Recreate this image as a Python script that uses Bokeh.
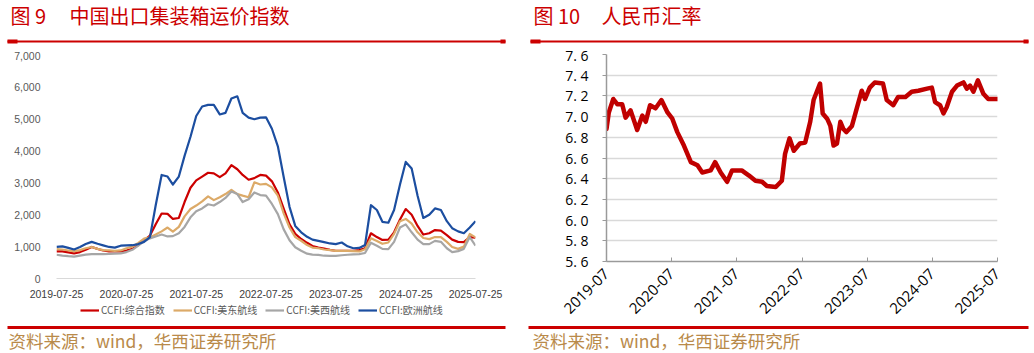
import pandas as pd
from bokeh.plotting import figure
from bokeh.layouts import row, column
from bokeh.models import (Range1d, FixedTicker, NumeralTickFormatter, DatetimeTickFormatter,
                          CustomJSTickFormatter, Legend, LegendItem)
from bokeh.core.properties import value
from bokeh.embed import file_html
from bokeh.resources import INLINE
import math

# ---------------- data: 中国出口集装箱运价指数 (monthly readings) ----------------
ccfi_dates = pd.date_range("2019-07-25", periods=73, freq=pd.DateOffset(months=1))
ccfi_composite = [850, 850, 820, 790, 830, 900, 990, 930, 880, 850,
                  850, 850, 880, 930, 1050, 1200, 1350, 1700, 2040, 2030,
                  1870, 1900, 2400, 2850, 3080, 3200, 3320, 3300, 3180, 3300,
                  3560, 3430, 3250, 3100, 3150, 3250, 3230, 3050, 2700, 2200,
                  1700, 1400, 1240, 1120, 1020, 970, 940, 900, 870, 870,
                  870, 870, 890, 950, 1420, 1300, 1210, 1220, 1450, 1850,
                  2180, 2000, 1650, 1380, 1420, 1520, 1500, 1360, 1220, 1150,
                  1140, 1300, 1280]
ccfi_us_east = [920, 910, 880, 850, 890, 950, 990, 930, 890, 880,
                870, 880, 950, 1000, 1120, 1250, 1290, 1380, 1480, 1600,
                1470, 1620, 1950, 2180, 2290, 2420, 2580, 2460, 2550, 2650,
                2780, 2650, 2600, 2550, 3020, 2950, 2970, 2860, 2600, 2050,
                1600, 1300, 1185, 1050, 970, 950, 910, 890, 870, 870,
                870, 860, 850, 920, 1260, 1180, 1090, 1130, 1400, 1800,
                1870, 1720, 1450, 1270, 1237, 1300, 1300, 1150, 990, 930,
                1000, 1400, 1290]
ccfi_us_west = [745, 720, 700, 685, 720, 750, 766, 766, 766, 770,
                780, 790, 830, 900, 1030, 1170, 1260, 1320, 1380, 1320,
                1330, 1420, 1620, 1920, 2110, 2200, 2330, 2290, 2400, 2530,
                2730, 2650, 2400, 2490, 2700, 2620, 2600, 2340, 2020, 1550,
                1200, 980, 870, 780, 750, 740, 715, 713, 713, 730,
                745, 760, 766, 800, 1120, 1030, 930, 920, 1150, 1600,
                1700, 1450, 1220, 1080, 1080, 1180, 1150, 950, 830, 860,
                930, 1300, 1030]
ccfi_europe = [990, 1010, 960, 910, 990, 1080, 1150, 1090, 1040, 990,
               970, 1030, 1040, 1045, 1080, 1150, 1300, 2300, 3250, 3200,
               2950, 3200, 3850, 4450, 5100, 5400, 5450, 5450, 5150, 5200,
               5650, 5720, 5200, 5050, 5000, 5050, 5060, 4700, 4150, 3200,
               2250, 1650, 1450, 1310, 1220, 1180, 1140, 1100, 1080, 1130,
               1010, 950, 960, 1050, 2300, 2150, 1780, 1750, 2150, 2950,
               3660, 3450, 2600, 1900, 2000, 2200, 2150, 1800, 1580, 1480,
               1420, 1600, 1800]
ccfi_names = ["CCFI:综合指数", "CCFI:美东航线", "CCFI:美西航线", "CCFI:欧洲航线"]
ccfi_ticks = ["2019-07-25", "2020-07-25", "2021-07-25", "2022-07-25",
              "2023-07-25", "2024-07-25", "2025-07-25"]
ccfi_yticks = [0, 1000, 2000, 3000, 4000, 5000, 6000, 7000]

# ---------------- data: 人民币汇率 ----------------
fx_dates = ["2019-07-01", "2019-07-14", "2019-08-08", "2019-08-30", "2019-09-27", "2019-10-16",
            "2019-11-13", "2019-12-20", "2020-01-18", "2020-02-06", "2020-03-01", "2020-04-01",
            "2020-05-04", "2020-06-07", "2020-07-04", "2020-08-01", "2020-09-07", "2020-10-16",
            "2020-11-22", "2020-12-19", "2021-02-04", "2021-03-01", "2021-04-01", "2021-05-07",
            "2021-06-04", "2021-07-28", "2021-09-07", "2021-10-13", "2021-11-19", "2021-12-16",
            "2022-02-04", "2022-03-10", "2022-03-28", "2022-04-22", "2022-05-16", "2022-06-19",
            "2022-07-19", "2022-08-16", "2022-09-04", "2022-09-22", "2022-10-10", "2022-10-25",
            "2022-11-19", "2022-12-07", "2022-12-25", "2023-01-13", "2023-02-01", "2023-02-18",
            "2023-03-07", "2023-04-07", "2023-05-04", "2023-06-01", "2023-06-19", "2023-07-16",
            "2023-08-13", "2023-09-28", "2023-10-19", "2023-11-25", "2023-12-22", "2024-02-01",
            "2024-03-07", "2024-04-13", "2024-06-01", "2024-06-28", "2024-07-16", "2024-08-13",
            "2024-09-01", "2024-09-19", "2024-10-19", "2024-11-16", "2024-12-22", "2025-01-10",
            "2025-01-28", "2025-02-16", "2025-03-13", "2025-04-13", "2025-05-10", "2025-06-07",
            "2025-07-01"]
fx_values = [6.88, 7.04, 7.17, 7.12, 7.12, 6.99, 7.06, 6.87, 7.01, 6.95,
             7.11, 7.08, 7.16, 7.04, 6.98, 6.85, 6.72, 6.56, 6.53, 6.46,
             6.48, 6.56, 6.46, 6.37, 6.48, 6.48, 6.43, 6.38, 6.37, 6.33,
             6.32, 6.38, 6.64, 6.79, 6.67, 6.74,
             6.75, 6.95, 7.16, 7.24, 7.32, 7.03, 6.98, 6.91, 6.72, 6.74,
             6.95, 6.88, 6.85, 6.91, 7.08, 7.25, 7.17, 7.28, 7.33, 7.32,
             7.16, 7.11, 7.19, 7.19, 7.24, 7.25, 7.27, 7.28, 7.14, 7.11,
             7.03, 7.09, 7.24, 7.30, 7.33, 7.27, 7.30, 7.24, 7.35, 7.22,
             7.17, 7.17, 7.17]
fx_ticks = ["2019-07-01", "2020-07-01", "2021-07-01", "2022-07-01",
            "2023-07-01", "2024-07-01", "2025-07-01"]
fx_yticks = [5.6, 5.8, 6.0, 6.2, 6.4, 6.6, 6.8, 7.0, 7.2, 7.4, 7.6]

# ---------------- styling ----------------
W = 517
RED = "#cc0000"
CJK = "Noto Sans CJK SC"
SRC_COLOR = "#b98a4a"
SOURCE = "资料来源：wind，华西证券研究所"
COLORS = ["#cc0000", "#dcaa68", "#a6a6a6", "#1c4ea0"]


def ms(d):
    return pd.Timestamp(d).value / 1e6


def blank(h):
    p = figure(width=W, height=h, x_range=Range1d(0, W), y_range=Range1d(h, 0),
               x_axis_location=None, y_axis_location=None, output_backend="svg",
               toolbar_location=None, min_border=0, frame_align=False)
    p.grid.visible = False
    p.outline_line_color = None
    return p


def header(num, title, x_num, x_title, x0, x1):
    p = blank(45)
    for txt, x in ((num, x_num), (title, x_title)):
        p.text(x=[x], y=[15], text=[txt], text_font=value(CJK), text_font_size="20px",
               text_color=RED, text_baseline="middle", text_align="left")
    p.segment(x0=[x0], y0=[41], x1=[x1], y1=[41], line_color=RED, line_width=2)
    p.segment(x0=[x0, x1 - 5], y0=[41, 41], x1=[x0 + 10, x1], y1=[41, 41],
              line_color=RED, line_width=4)
    return p


def footer(h, rule_y, text_y, x0, x1, xt):
    p = blank(h)
    p.segment(x0=[x0], y0=[rule_y], x1=[x1], y1=[rule_y], line_color=RED, line_width=3)
    p.text(x=[xt], y=[text_y], text=[SOURCE], text_font=value(CJK), text_font_size="17.5px",
           text_color=SRC_COLOR, text_baseline="middle", text_align="left")
    return p


# ---------------- left chart ----------------
pl = figure(width=W, height=255, x_axis_type="datetime",
            x_range=Range1d(pd.Timestamp("2019-07-25"), pd.Timestamp("2025-07-25")),
            y_range=Range1d(0, 7000), output_backend="svg", toolbar_location=None,
            min_border_left=56, min_border_right=42, min_border_top=10, min_border_bottom=22,
            frame_align=False)
pl.outline_line_color = None
pl.grid.visible = False
series = [ccfi_composite, ccfi_us_east, ccfi_us_west, ccfi_europe]
for vals, c in zip(series, COLORS):
    pl.line(x=ccfi_dates, y=vals, line_color=c, line_width=2.2, line_join="round")

pl.xaxis.ticker = FixedTicker(ticks=[ms(d) for d in ccfi_ticks])
pl.xaxis.formatter = DatetimeTickFormatter(years="%Y-%m-%d", months="%Y-%m-%d",
                                           days="%Y-%m-%d")
pl.xaxis.axis_line_color = "#d9d9d9"
pl.xaxis.major_tick_line_color = None
pl.xaxis.minor_tick_line_color = None
pl.xaxis.major_label_standoff = 5
pl.xaxis.major_label_text_font = "Liberation Sans"
pl.xaxis.major_label_text_font_size = "10.5px"
pl.xaxis.major_label_text_color = "#404040"

pl.yaxis.ticker = FixedTicker(ticks=ccfi_yticks)
pl.yaxis.formatter = NumeralTickFormatter(format="0,0")
pl.yaxis.axis_line_color = None
pl.yaxis.major_tick_line_color = None
pl.yaxis.minor_tick_line_color = None
pl.yaxis.major_label_standoff = 10
pl.yaxis.major_label_text_font = "Liberation Sans"
pl.yaxis.major_label_text_font_size = "10.5px"
pl.yaxis.major_label_text_color = "#595959"

# legend strip: the same four series, styled like the chart lines (outside this strip's view)
lg = blank(22)
items = []
for name, vals, c in zip(ccfi_names, series, COLORS):
    r = lg.line(x=ccfi_dates, y=vals, line_color=c, line_width=2.2)
    items.append(LegendItem(label=name, renderers=[r]))
legend = Legend(items=items, orientation="horizontal", location=(80, 5),
                margin=0, padding=0, spacing=8, glyph_width=19, glyph_height=12,
                label_height=12, label_standoff=2, label_text_font=CJK,
                label_text_font_size="10px", label_text_color="#595959",
                border_line_color=None, background_fill_alpha=0)
lg.add_layout(legend)

# ---------------- right chart ----------------
pr = figure(width=W, height=279, x_axis_type="datetime",
            x_range=Range1d(pd.Timestamp("2019-07-01"), pd.Timestamp("2025-07-01")),
            y_range=Range1d(5.6, 7.6), output_backend="svg", toolbar_location=None,
            min_border_left=89, min_border_right=37, min_border_top=9, min_border_bottom=63,
            frame_align=False)
pr.outline_line_color = None
pr.xgrid.visible = False
pr.ygrid.ticker = FixedTicker(ticks=fx_yticks)
pr.ygrid.grid_line_color = "#d9d9d9"
pr.ygrid.grid_line_width = 1.5
pr.line(x=pd.to_datetime(fx_dates), y=fx_values, line_color="#c00000", line_width=4.5,
        line_join="round", line_cap="round")

pr.xaxis.ticker = FixedTicker(ticks=[ms(d) for d in fx_ticks])
pr.xaxis.formatter = DatetimeTickFormatter(years="%Y-%m", months="%Y-%m", days="%Y-%m")
pr.xaxis.major_label_orientation = math.pi / 4
pr.xaxis.axis_line_color = "#9a9a9a"
pr.xaxis.axis_line_width = 1.5
pr.xaxis.major_tick_line_color = "#9a9a9a"
pr.xaxis.major_tick_in = 4
pr.xaxis.major_tick_out = 0
pr.xaxis.minor_tick_line_color = None
pr.xaxis.major_label_standoff = 10
pr.xaxis.major_label_text_font = "Open Sans"
pr.xaxis.major_label_text_font_size = "15px"
pr.xaxis.major_label_text_color = "#000000"

pr.yaxis.ticker = FixedTicker(ticks=fx_yticks)
pr.yaxis.formatter = CustomJSTickFormatter(code="return tick.toFixed(1).replace('.', '. ');")
pr.yaxis.axis_line_color = "#9a9a9a"
pr.yaxis.axis_line_width = 1.5
pr.yaxis.major_tick_line_color = "#9a9a9a"
pr.yaxis.major_tick_in = 0
pr.yaxis.major_tick_out = 4
pr.yaxis.minor_tick_line_color = None
pr.yaxis.major_label_standoff = 14
pr.yaxis.major_label_text_font = "Open Sans"
pr.yaxis.major_label_text_font_size = "14px"
pr.yaxis.major_label_text_color = "#000000"

# ---------------- assemble ----------------
left = column(header("图 9", "中国出口集装箱运价指数", 10, 69, 7, 505), pl, lg,
              footer(31, 5, 18, 7, 505, 8), spacing=0)
right = column(header("图 10", "人民币汇率", 16, 84, 13, 511), pr,
               footer(29, 3, 16, 11, 511, 15), spacing=0)
layout = row(left, right, spacing=0)

open("out.html", "w").write(file_html(layout, INLINE))
